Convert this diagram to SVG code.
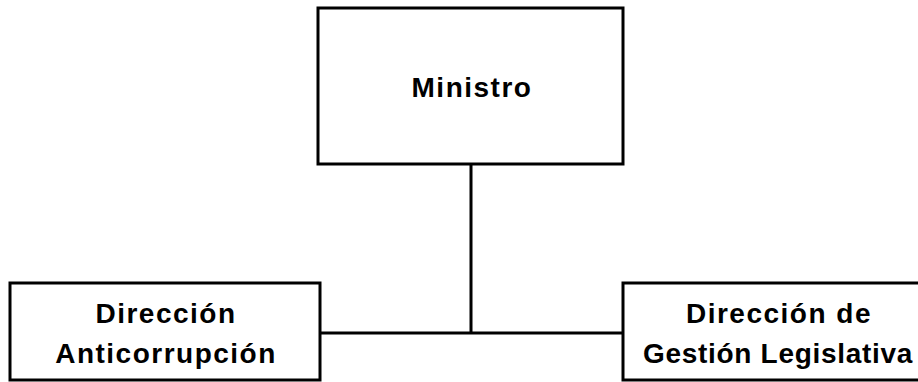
<svg xmlns="http://www.w3.org/2000/svg" width="918" height="382" viewBox="0 0 918 382">
<style>
.box{fill:#fff;stroke:#000;stroke-width:3}
.lbl{font-family:"Liberation Sans",Arial,sans-serif;font-weight:bold;font-size:28px;fill:#000;text-anchor:middle;letter-spacing:1.5px}
.con{stroke:#000;stroke-width:3;fill:none}
</style>
<rect width="918" height="382" fill="#fff"/>
<g id="connectors">
<path class="con" d="M471 164 V333 M320 333 H623"/>
</g>
<g id="ministro">
<rect class="box" x="318" y="8" width="305" height="156"/>
<text class="lbl" x="472" y="97">Ministro</text>
</g>
<g id="anticorrupcion">
<rect class="box" x="10" y="283" width="310" height="97"/>
<text class="lbl" x="166" y="323">Dirección</text>
<text class="lbl" x="166" y="363">Anticorrupción</text>
</g>
<g id="gestion">
<rect class="box" x="623" y="283" width="310" height="97"/>
<text class="lbl" x="779" y="323">Dirección de</text>
<text class="lbl" x="778" y="363" style="letter-spacing:0.7px">Gestión Legislativa</text>
</g>
</svg>
